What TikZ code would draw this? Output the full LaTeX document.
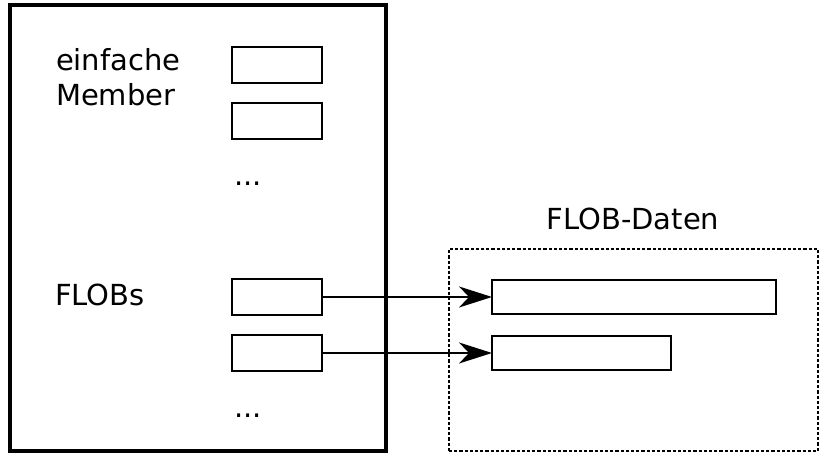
\documentclass[tikz,border=0pt]{standalone}
\usepackage{fontspec}
\setmainfont{DejaVu Sans}
\usetikzlibrary{arrows.meta}
\begin{document}
\begin{tikzpicture}[x=0.5pt,y=-0.5pt,
  every node/.style={inner sep=0pt,outer sep=0pt},
  lbl/.style={font=\fontsize{14.5pt}{17pt}\selectfont,anchor=base west},
  slot/.style={draw,line width=1pt,anchor=north west,minimum width=45pt,minimum height=18pt},
  datablk/.style={draw,line width=1pt,anchor=north west,minimum height=17pt},
  link/.style={line width=1pt,-{Stealth[length=16.5pt,width=10.5pt,inset=5pt]}}]
\useasboundingbox (0,0) rectangle (820,453);
% object record
\node[draw,line width=1.75pt,anchor=north west,minimum width=188pt,minimum height=223pt] (rec) at (10,5) {};
\node[lbl] (einf) at (56,71) {einfache};
\node[lbl] (memb) at (56,106) {Member};
\node[slot] (m1) at (232,47) {};
\node[slot] (m2) at (232,103) {};
\node[lbl] (dots1) at (234,186) {...};
\node[lbl] (flobs) at (55,306) {FLOBs};
\node[slot] (f1) at (232,279) {};
\node[slot] (f2) at (232,335) {};
\node[lbl] (dots2) at (234,418) {...};
% external FLOB storage
\node[draw,dashed,dash pattern=on 1.6pt off 1pt,line width=0.9pt,anchor=north west,minimum width=184.5pt,minimum height=101pt] (store) at (449,249) {};
\node[font=\fontsize{14.5pt}{17pt}\selectfont,anchor=base] (storelbl) at (633,230) {FLOB-Daten};
\node[datablk,minimum width=142pt] (d1) at (492,280) {};
\node[datablk,minimum width=89.5pt] (d2) at (492,336) {};
\draw[link] (f1.east) -- (d1.west);
\draw[link] (f2.east) -- (d2.west);
\end{tikzpicture}
\end{document}
